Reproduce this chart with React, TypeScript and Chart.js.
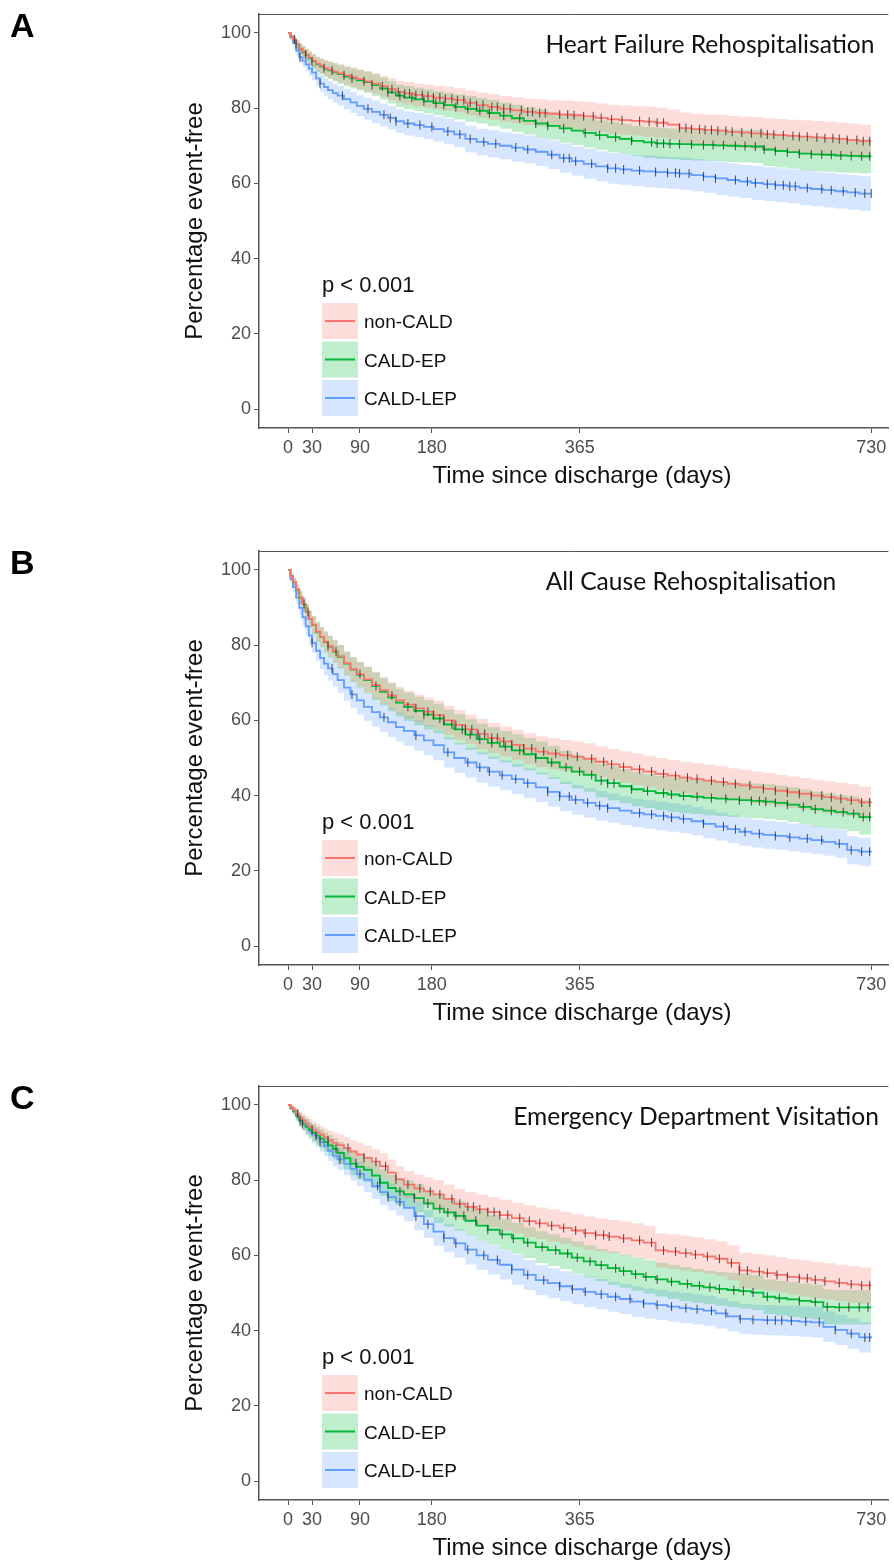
import React, { useEffect, useRef } from 'react';
import { Chart, registerables } from 'chart.js';

Chart.register(...registerables);

// ---------- shared axis / legend data ----------
const days = [
  0, 3, 6, 10, 14, 18, 22, 26,
  30, 35, 40, 45, 50, 56, 62, 70,
  78, 86, 95, 105, 115, 125, 135, 145,
  158, 170, 182, 195, 208, 222, 236, 250,
  265, 280, 295, 310, 325, 340, 355, 370,
  385, 400, 415, 430, 445, 460, 475, 490,
  505, 520, 535, 550, 565, 580, 595, 610,
  625, 640, 655, 670, 685, 700, 715, 730,
];
const xTickValues = [0, 30, 90, 180, 365, 730];
const yTickValues = [0, 20, 40, 60, 80, 100];
const groupNames = ['non-CALD', 'CALD-EP', 'CALD-LEP'];
const pValueLabel = 'p < 0.001';
const xAxisTitle = 'Time since discharge (days)';
const yAxisTitle = 'Percentage event-free';

// ---------- Panel A: Heart Failure Rehospitalisation ----------
const hfNonCald = [
  100, 99, 98.2, 97, 95.8, 95, 94.2, 93.4,
  92.6, 91.8, 91.2, 90.6, 90.2, 89.7, 89.2, 88.7,
  88.2, 87.7, 87.1, 86.5, 85.8, 85, 84.3, 83.9,
  83.5, 83.2, 82.8, 82.5, 82.1, 81.4, 80.8, 80.3,
  79.8, 79.4, 79.0, 78.7, 78.5, 78.3, 78.1, 77.8,
  77.4, 77.0, 76.8, 76.6, 76.4, 76.1, 75.6, 74.7,
  74.4, 74.2, 74.0, 73.7, 73.5, 73.3, 73.0, 72.8,
  72.6, 72.4, 72.2, 72.0, 71.8, 71.5, 71.2, 71.2,
];
const hfCaldEp = [
  100, 99, 98.2, 97, 95.7, 94.8, 94, 93.2,
  92.4, 91.6, 91, 90.4, 90, 89.5, 89, 88.4,
  87.9, 87.4, 86.9, 86.1, 85.2, 84.2, 83.3, 82.8,
  82.3, 81.8, 81.3, 80.8, 80.3, 79.8, 79.3, 78.7,
  78.0, 77.3, 76.6, 75.9, 75.3, 74.6, 74.0, 73.4,
  72.8, 72.3, 71.8, 71.3, 70.9, 70.6, 70.5, 70.4,
  70.3, 70.2, 70.1, 70.0, 69.9, 69.8, 69.0, 68.6,
  68.3, 67.9, 67.7, 67.6, 67.4, 67.3, 67.2, 67.2,
];
const hfCaldLep = [
  100, 98.8, 97.4, 95.3, 93.5, 92.6, 91.6, 90.5,
  89.4, 87.9, 86.5, 85.6, 84.8, 84, 83.3, 82.4,
  81.5, 80.6, 79.8, 79.0, 78.2, 77.4, 76.5, 75.9,
  75.5, 75.0, 74.4, 73.8, 73.0, 71.8, 71.0, 70.5,
  70.0, 69.5, 69.0, 68.4, 67.6, 66.7, 65.9, 65.2,
  64.5, 64.0, 63.7, 63.4, 63.2, 63.0, 62.8, 62.6,
  62.2, 61.8, 61.3, 60.9, 60.5, 60.1, 59.8, 59.5,
  59.2, 58.8, 58.5, 58.2, 57.9, 57.6, 57.3, 57.3,
];
const hfNonCaldCI = [
  0, 0.5, 0.8, 1.1, 1.3, 1.5, 1.6, 1.7,
  1.8, 1.9, 2.0, 2.1, 2.2, 2.3, 2.4, 2.5,
  2.6, 2.6, 2.7, 2.8, 2.8, 2.9, 2.9, 3.0,
  3.0, 3.1, 3.1, 3.2, 3.2, 3.3, 3.3, 3.4,
  3.4, 3.5, 3.5, 3.6, 3.6, 3.7, 3.7, 3.8,
  3.8, 3.9, 3.9, 3.9, 4.0, 4.0, 4.0, 4.1,
  4.1, 4.1, 4.2, 4.2, 4.2, 4.3, 4.3, 4.3,
  4.3, 4.4, 4.4, 4.4, 4.4, 4.4, 4.4, 4.4,
];
const hfCaldEpCI = [
  0, 0.6, 0.9, 1.2, 1.4, 1.6, 1.7, 1.8,
  1.9, 2.0, 2.1, 2.2, 2.3, 2.4, 2.5, 2.6,
  2.7, 2.7, 2.8, 2.9, 2.9, 3.0, 3.0, 3.1,
  3.1, 3.2, 3.2, 3.3, 3.3, 3.4, 3.4, 3.5,
  3.5, 3.6, 3.6, 3.7, 3.7, 3.8, 3.8, 3.9,
  3.9, 4.0, 4.0, 4.0, 4.1, 4.1, 4.1, 4.2,
  4.2, 4.2, 4.3, 4.3, 4.3, 4.4, 4.4, 4.4,
  4.4, 4.5, 4.5, 4.5, 4.5, 4.5, 4.5, 4.5,
];
const hfCaldLepCI = [
  0, 0.7, 1.0, 1.3, 1.5, 1.7, 1.8, 1.9,
  2.0, 2.1, 2.2, 2.3, 2.4, 2.5, 2.6, 2.7,
  2.8, 2.8, 2.9, 3.0, 3.0, 3.1, 3.1, 3.2,
  3.2, 3.3, 3.3, 3.4, 3.4, 3.5, 3.5, 3.6,
  3.6, 3.7, 3.7, 3.8, 3.8, 3.9, 3.9, 4.0,
  4.0, 4.1, 4.1, 4.1, 4.2, 4.2, 4.2, 4.3,
  4.3, 4.3, 4.4, 4.4, 4.4, 4.5, 4.5, 4.5,
  4.5, 4.6, 4.6, 4.6, 4.6, 4.6, 4.6, 4.6,
];
const hfNonCaldCensor = [8, 22, 45, 70, 95, 118, 130, 138, 146, 152, 160, 168, 175, 182, 190, 197, 205, 212, 220, 228, 236, 244, 255, 262, 270, 278, 292, 300, 306, 315, 322, 340, 350, 358, 370, 382, 392, 405, 418, 440, 452, 462, 470, 490, 498, 505, 515, 522, 530, 538, 548, 556, 568, 580, 592, 600, 608, 620, 632, 640, 650, 662, 672, 682, 690, 700, 712, 720, 728];
const hfCaldEpCensor = [10, 30, 55, 80, 105, 125, 140, 155, 170, 185, 195, 210, 225, 240, 252, 270, 290, 310, 325, 345, 372, 390, 410, 430, 455, 462, 470, 478, 490, 505, 520, 532, 545, 560, 572, 585, 596, 610, 625, 640, 655, 668, 680, 692, 705, 718, 728];
const hfCaldLepCensor = [15, 40, 68, 100, 120, 128, 135, 150, 165, 180, 200, 215, 228, 245, 260, 285, 300, 330, 345, 352, 360, 380, 400, 410, 420, 440, 460, 475, 485, 490, 502, 520, 535, 560, 575, 585, 600, 610, 620, 628, 635, 650, 668, 680, 695, 710, 722, 730];

// ---------- Panel B: All Cause Rehospitalisation ----------
const acNonCald = [
  100, 98.3, 96.8, 94.8, 92.7, 90.9, 88.9, 87.0,
  85.4, 83.6, 82.2, 80.9, 79.7, 78.4, 77.0, 75.2,
  73.6, 72.3, 70.9, 69.4, 68.0, 66.6, 65.3, 64.2,
  63.2, 62.3, 61.4, 60.0, 58.8, 57.6, 56.4, 55.3,
  54.4, 53.5, 52.5, 51.7, 51.2, 50.7, 50.3, 49.8,
  49.0, 48.3, 47.6, 47.0, 46.4, 45.8, 45.3, 44.8,
  44.4, 44.0, 43.6, 43.1, 42.7, 42.2, 41.8, 41.3,
  40.9, 40.5, 40.0, 39.6, 39.2, 38.8, 38.2, 38.1,
];
const acCaldEp = [
  100, 98.3, 96.8, 94.7, 92.6, 90.8, 88.8, 86.9,
  85.3, 83.5, 82.1, 80.8, 79.6, 78.3, 76.9, 75.1,
  73.5, 72.1, 70.7, 69.1, 67.6, 66.1, 64.7, 63.6,
  62.5, 61.5, 60.5, 58.9, 57.6, 56.2, 55.0, 54.0,
  53.0, 52.0, 51.0, 50.0, 48.8, 47.5, 46.4, 45.5,
  44.0, 43.3, 42.5, 41.7, 41.2, 40.7, 40.3, 39.9,
  39.7, 39.4, 39.2, 39.0, 38.8, 38.6, 38.4, 38.1,
  37.6, 37.0, 36.4, 36.0, 35.6, 35.2, 34.3, 34.3,
];
const acCaldLep = [
  100, 97.5, 95.4, 92.6, 89.9, 87.4, 85.0, 82.5,
  80.6, 78.5, 76.6, 75.1, 73.8, 72.3, 70.7, 68.7,
  66.9, 65.3, 63.6, 62.2, 60.8, 59.5, 58.2, 57.2,
  56.0, 54.7, 53.4, 51.5, 50.0, 48.8, 47.5, 46.4,
  45.4, 44.4, 43.3, 42.2, 41.0, 39.8, 38.9, 38.1,
  37.3, 36.7, 36.0, 35.4, 35.0, 34.6, 34.2, 33.8,
  33.2, 32.5, 31.8, 31.1, 30.4, 29.9, 29.6, 29.3,
  28.9, 28.6, 28.2, 27.7, 27.2, 25.5, 25.1, 25.0,
];
const acNonCaldCI = [
  0, 0.7, 1.0, 1.3, 1.6, 1.8, 2.0, 2.2,
  2.3, 2.5, 2.6, 2.7, 2.8, 2.9, 3.0, 3.1,
  3.2, 3.3, 3.4, 3.5, 3.5, 3.6, 3.6, 3.7,
  3.7, 3.8, 3.8, 3.9, 3.9, 3.9, 4.0, 4.0,
  4.0, 4.0, 4.1, 4.1, 4.1, 4.1, 4.1, 4.1,
  4.1, 4.1, 4.2, 4.2, 4.2, 4.2, 4.2, 4.2,
  4.2, 4.2, 4.2, 4.2, 4.2, 4.2, 4.2, 4.2,
  4.2, 4.2, 4.2, 4.2, 4.2, 4.2, 4.2, 4.2,
];
const acCaldEpCI = [
  0, 0.7, 1.0, 1.4, 1.7, 1.9, 2.1, 2.3,
  2.4, 2.6, 2.7, 2.8, 2.9, 3.0, 3.1, 3.2,
  3.3, 3.4, 3.5, 3.6, 3.6, 3.7, 3.7, 3.8,
  3.8, 3.9, 3.9, 4.0, 4.0, 4.1, 4.1, 4.2,
  4.2, 4.3, 4.3, 4.4, 4.4, 4.4, 4.5, 4.5,
  4.5, 4.5, 4.5, 4.5, 4.5, 4.5, 4.6, 4.6,
  4.6, 4.6, 4.6, 4.6, 4.6, 4.6, 4.6, 4.6,
  4.6, 4.6, 4.6, 4.6, 4.6, 4.6, 4.6, 4.6,
];
const acCaldLepCI = [
  0, 0.8, 1.2, 1.6, 1.9, 2.1, 2.3, 2.5,
  2.7, 2.8, 3.0, 3.1, 3.2, 3.3, 3.4, 3.5,
  3.6, 3.7, 3.7, 3.8, 3.8, 3.9, 3.9, 4.0,
  4.0, 4.0, 4.0, 4.0, 4.0, 4.0, 4.0, 4.0,
  4.0, 4.0, 4.0, 3.9, 3.9, 3.9, 3.9, 3.9,
  3.9, 3.9, 3.8, 3.8, 3.8, 3.8, 3.8, 3.8,
  3.8, 3.8, 3.7, 3.7, 3.7, 3.7, 3.7, 3.7,
  3.7, 3.7, 3.7, 3.7, 3.7, 3.7, 3.7, 3.7,
];
const acNonCaldCensor = [20, 50, 90, 130, 160, 175, 182, 195, 210, 222, 230, 238, 246, 255, 262, 270, 280, 295, 305, 320, 335, 350, 362, 380, 395, 405, 420, 440, 455, 470, 485, 500, 512, 530, 545, 560, 578, 595, 610, 625, 640, 655, 668, 680, 692, 705, 718, 728];
const acCaldEpCensor = [25, 60, 110, 150, 170, 190, 205, 218, 228, 240, 255, 272, 290, 310, 330, 348, 365, 380, 392, 400, 408, 430, 450, 470, 480, 495, 512, 530, 548, 565, 580, 590, 598, 610, 625, 645, 660, 680, 695, 708, 720, 728];
const acCaldLepCensor = [30, 55, 80, 120, 160, 200, 225, 240, 252, 268, 285, 300, 325, 340, 352, 360, 375, 390, 400, 440, 455, 470, 480, 495, 520, 545, 560, 572, 590, 610, 628, 650, 668, 690, 705, 718, 728];

// ---------- Panel C: Emergency Department Visitation ----------
const edNonCald = [
  100, 99.3, 98.6, 97.6, 96.6, 95.8, 95.0, 94.2,
  93.4, 92.6, 92.0, 91.3, 90.6, 89.9, 89.3, 88.5,
  87.6, 86.8, 85.9, 84.9, 83.7, 82.0, 80.2, 78.8,
  77.8, 77.0, 76.2, 75.0, 73.7, 72.9, 72.2, 71.5,
  70.7, 69.9, 69.1, 68.5, 67.9, 67.3, 66.6, 65.9,
  65.4, 65.0, 64.5, 64.0, 63.4, 61.3, 61.0, 60.6,
  60.2, 59.7, 59.1, 58.0, 56.0, 55.7, 55.3, 54.8,
  54.3, 53.9, 53.5, 53.1, 52.7, 52.3, 52.0, 52.0,
];
const edCaldEp = [
  100, 99.2, 98.4, 97.2, 95.8, 95.0, 94.2, 93.4,
  92.6, 91.8, 91.0, 90.1, 89.2, 88.3, 87.2, 85.8,
  84.4, 83.5, 82.7, 81.2, 79.3, 77.9, 77.0, 76.2,
  75.2, 73.8, 72.4, 71.4, 70.5, 69.2, 67.9, 66.8,
  65.6, 64.5, 63.4, 62.2, 61.4, 60.5, 59.4, 58.4,
  57.4, 56.6, 55.8, 55.0, 54.3, 53.6, 53.0, 52.4,
  51.9, 51.5, 51.1, 50.8, 50.5, 50.1, 49.0, 48.6,
  48.3, 47.9, 47.6, 46.3, 46.2, 46.2, 46.2, 46.2,
];
const edCaldLep = [
  100, 99.1, 98.2, 97.0, 95.8, 94.9, 94.0, 93.0,
  92.1, 91.2, 90.1, 89.0, 87.8, 86.5, 85.5, 84.3,
  83.0, 81.6, 80.1, 78.4, 76.8, 75.5, 74.2, 72.6,
  70.4, 68.3, 66.3, 64.6, 63.2, 61.5, 60.0, 58.8,
  57.5, 56.2, 54.8, 53.4, 52.6, 51.8, 51.0, 50.3,
  49.7, 49.0, 48.4, 47.7, 47.2, 46.8, 46.4, 46.0,
  45.7, 45.3, 44.6, 43.8, 43.1, 42.9, 42.8, 42.7,
  42.6, 42.4, 42.2, 41.0, 40.2, 39.2, 38.2, 38.0,
];
const edNonCaldCI = [
  0, 0.6, 0.9, 1.2, 1.5, 1.7, 1.9, 2.0,
  2.2, 2.3, 2.4, 2.5, 2.6, 2.7, 2.8, 2.9,
  3.0, 3.1, 3.2, 3.3, 3.4, 3.5, 3.5, 3.6,
  3.7, 3.7, 3.8, 3.8, 3.9, 3.9, 4.0, 4.0,
  4.1, 4.1, 4.2, 4.2, 4.3, 4.3, 4.3, 4.4,
  4.4, 4.4, 4.5, 4.5, 4.5, 4.5, 4.6, 4.6,
  4.6, 4.6, 4.6, 4.7, 4.7, 4.7, 4.7, 4.7,
  4.7, 4.8, 4.8, 4.8, 4.8, 4.8, 4.8, 4.8,
];
const edCaldEpCI = [
  0, 0.7, 1.0, 1.3, 1.6, 1.8, 2.0, 2.1,
  2.3, 2.4, 2.5, 2.6, 2.7, 2.8, 2.9, 3.0,
  3.1, 3.2, 3.3, 3.4, 3.5, 3.5, 3.6, 3.6,
  3.7, 3.7, 3.8, 3.8, 3.9, 3.9, 4.0, 4.0,
  4.1, 4.1, 4.1, 4.2, 4.2, 4.2, 4.3, 4.3,
  4.3, 4.4, 4.4, 4.4, 4.4, 4.5, 4.5, 4.5,
  4.5, 4.5, 4.5, 4.6, 4.6, 4.6, 4.6, 4.6,
  4.6, 4.6, 4.6, 4.6, 4.6, 4.6, 4.6, 4.6,
];
const edCaldLepCI = [
  0, 0.7, 1.0, 1.3, 1.6, 1.8, 2.0, 2.1,
  2.3, 2.4, 2.5, 2.6, 2.7, 2.8, 2.9, 3.0,
  3.1, 3.2, 3.3, 3.4, 3.5, 3.5, 3.6, 3.6,
  3.7, 3.7, 3.8, 3.8, 3.8, 3.9, 3.9, 3.9,
  3.9, 4.0, 4.0, 4.0, 4.0, 4.0, 4.0, 4.0,
  4.0, 4.0, 4.0, 4.0, 4.0, 4.0, 4.0, 4.0,
  4.0, 4.0, 4.0, 4.0, 4.0, 4.0, 4.0, 4.0,
  4.0, 4.0, 4.0, 4.0, 4.0, 4.0, 4.0, 4.0,
];
const edNonCaldCensor = [12, 30, 50, 75, 95, 110, 122, 135, 150, 165, 178, 190, 205, 215, 225, 232, 240, 250, 258, 265, 275, 290, 302, 315, 330, 345, 360, 372, 385, 395, 402, 420, 440, 455, 470, 485, 498, 510, 525, 540, 555, 565, 575, 590, 600, 612, 625, 640, 650, 660, 672, 690, 705, 718, 728];
const edCaldEpCensor = [15, 35, 60, 85, 115, 140, 158, 175, 190, 200, 210, 220, 235, 250, 268, 282, 300, 318, 335, 350, 362, 378, 392, 410, 420, 435, 448, 462, 480, 500, 515, 528, 540, 558, 570, 582, 600, 615, 640, 660, 675, 690, 702, 715, 726];
const edCaldLepCensor = [18, 40, 65, 90, 112, 125, 140, 160, 175, 195, 210, 225, 245, 262, 280, 300, 320, 340, 356, 372, 392, 410, 428, 445, 462, 480, 498, 512, 530, 548, 566, 582, 600, 610, 618, 630, 648, 665, 685, 705, 722, 728];

// ---------- styling ----------
const lineColors = ['#F8766D', '#00BA38', '#619CFF'];
const bandColors = ['rgba(248,118,109,0.25)', 'rgba(0,186,56,0.25)', 'rgba(97,156,255,0.25)'];
const FONT = '"Liberation Sans", Arial, Helvetica, sans-serif';
const TITLE_FONT = 'Lato, "Open Sans", sans-serif';
const AXIS_GREY = '#555555';
const CANVAS_W = 894;
const CANVAS_H = 510;

const PANELS = [
  { letter: 'A', title: 'Heart Failure Rehospitalisation', titleCx: 710, canvasTop: 0,
    surv: [hfNonCald, hfCaldEp, hfCaldLep], ci: [hfNonCaldCI, hfCaldEpCI, hfCaldLepCI], censor: [hfNonCaldCensor, hfCaldEpCensor, hfCaldLepCensor] },
  { letter: 'B', title: 'All Cause Rehospitalisation', titleCx: 691, canvasTop: 537,
    surv: [acNonCald, acCaldEp, acCaldLep], ci: [acNonCaldCI, acCaldEpCI, acCaldLepCI], censor: [acNonCaldCensor, acCaldEpCensor, acCaldLepCensor] },
  { letter: 'C', title: 'Emergency Department Visitation', titleCx: 696, canvasTop: 1072,
    surv: [edNonCald, edCaldEp, edCaldLep], ci: [edNonCaldCI, edCaldEpCI, edCaldLepCI], censor: [edNonCaldCensor, edCaldEpCensor, edCaldLepCensor] },
];

// value of the Kaplan-Meier step curve at time t (last step at or before t)
function stepValue(series: number[], t: number) {
  let v = series[0];
  for (let i = 0; i < days.length; i++) {
    if (days[i] <= t) v = series[i];
  }
  return v;
}

function makeDecor(panel: any) {
  return {
    id: 'decor' + panel.letter,
    afterDraw(chart: any) {
      const ctx = chart.ctx;
      const a = chart.chartArea;
      ctx.save();
      // top frame line
      ctx.strokeStyle = AXIS_GREY;
      ctx.lineWidth = 1;
      ctx.beginPath();
      ctx.moveTo(a.left, a.top + 0.5);
      ctx.lineTo(a.right, a.top + 0.5);
      ctx.stroke();

      // panel letter
      ctx.fillStyle = '#000';
      ctx.font = 'bold 34px ' + FONT;
      ctx.textAlign = 'left';
      ctx.textBaseline = 'alphabetic';
      ctx.fillText(panel.letter, 10, 37);

      // panel title
      ctx.font = '24.6px ' + TITLE_FONT;
      ctx.textAlign = 'center';
      ctx.fillStyle = '#111';
      ctx.fillText(panel.title, panel.titleCx, a.top + 39);

      // axis titles
      ctx.fillStyle = '#111';
      ctx.font = '24px ' + FONT;
      ctx.textAlign = 'center';
      ctx.fillText(xAxisTitle, 582, a.top + 469);
      ctx.save();
      ctx.translate(202, (a.top + a.bottom) / 2);
      ctx.rotate(-Math.PI / 2);
      ctx.fillText(yAxisTitle, 0, 0);
      ctx.restore();

      // legend
      const lx = 322;
      ctx.textAlign = 'left';
      ctx.font = '22px ' + FONT;
      ctx.fillStyle = '#111';
      ctx.fillText(pValueLabel, lx, a.top + 278);
      ctx.font = '19px ' + FONT;
      for (let g = 0; g < 3; g++) {
        const ky = a.top + 289 + g * 38.5;
        ctx.fillStyle = '#fff';
        ctx.fillRect(lx, ky, 36, 36);
        ctx.fillStyle = bandColors[g];
        ctx.fillRect(lx, ky, 36, 36);
        ctx.strokeStyle = lineColors[g];
        ctx.lineWidth = 2;
        ctx.beginPath();
        ctx.moveTo(lx + 3, ky + 18);
        ctx.lineTo(lx + 33, ky + 18);
        ctx.stroke();
        ctx.fillStyle = '#111';
        ctx.fillText(groupNames[g], lx + 42, ky + 25);
      }
      ctx.restore();
    },
  };
}

function makeChart(canvas: HTMLCanvasElement, panel: any) {
  const datasets: any[] = [];
  panel.surv.forEach((s: number[], g: number) => {
    datasets.push({
      label: groupNames[g] + ' lower', type: 'line', order: 3,
      data: days.map((d, i) => ({ x: d, y: s[i] - panel.ci[g][i] })),
      borderColor: 'rgba(0,0,0,0)', borderWidth: 1, pointRadius: 0, stepped: true, fill: false,
    });
    datasets.push({
      label: groupNames[g] + ' upper', type: 'line', order: 3,
      data: days.map((d, i) => ({ x: d, y: s[i] + panel.ci[g][i] })),
      borderColor: 'rgba(0,0,0,0)', borderWidth: 1, pointRadius: 0, stepped: true,
      fill: '-1', backgroundColor: bandColors[g],
    });
  });
  panel.surv.forEach((s: number[], g: number) => {
    datasets.push({
      label: groupNames[g], type: 'line', order: 2,
      data: days.map((d, i) => ({ x: d, y: s[i] })),
      borderColor: lineColors[g], borderWidth: 1.8, pointRadius: 0, stepped: true, fill: false,
    });
  });
  panel.censor.forEach((c: number[], g: number) => {
    datasets.push({
      label: groupNames[g] + ' censored', type: 'line', order: 1, showLine: false,
      data: c.map((t) => ({ x: t, y: stepValue(panel.surv[g], t) })),
      pointStyle: 'line', rotation: 90, pointRadius: 4.5, pointBorderWidth: 1.1,
      pointBorderColor: 'rgba(40,40,40,0.75)', pointBackgroundColor: 'rgba(0,0,0,0)',
    });
  });

  return new Chart(canvas, {
    type: 'line',
    data: { datasets },
    options: {
      responsive: false,
      animation: false,
      devicePixelRatio: 1,
      events: [],
      layout: { padding: { top: 14, left: 0, right: 0, bottom: 0 } },
      plugins: { legend: { display: false }, tooltip: { enabled: false }, title: { display: false } },
      scales: {
        x: {
          type: 'linear', min: -36.4, max: 751.5,
          afterBuildTicks: (s: any) => { s.ticks = xTickValues.map((v) => ({ value: v })); },
          afterFit: (s: any) => { s.height = CANVAS_H - 14 - 414; s.paddingLeft = 0; s.paddingRight = 0; },
          grid: { display: true, drawOnChartArea: false, drawTicks: true, tickLength: 5, color: AXIS_GREY, lineWidth: 1 },
          border: { display: true, color: AXIS_GREY, width: 1.5 },
          ticks: { font: { family: FONT, size: 18 }, color: '#4D4D4D', padding: 4, maxRotation: 0, autoSkip: false },
        },
        y: {
          type: 'linear', min: -5, max: 105,
          afterBuildTicks: (s: any) => { s.ticks = yTickValues.map((v) => ({ value: v })); },
          afterFit: (s: any) => { s.width = 259; s.paddingTop = 0; s.paddingBottom = 0; },
          grid: { display: true, drawOnChartArea: false, drawTicks: true, tickLength: 5, color: AXIS_GREY, lineWidth: 1 },
          border: { display: true, color: AXIS_GREY, width: 1.5 },
          ticks: { font: { family: FONT, size: 18 }, color: '#4D4D4D', padding: 3, autoSkip: false },
        },
      },
    },
    plugins: [makeDecor(panel)],
  } as any);
}

export default function App() {
  const r0 = useRef<HTMLCanvasElement>(null);
  const r1 = useRef<HTMLCanvasElement>(null);
  const r2 = useRef<HTMLCanvasElement>(null);
  const refs = [r0, r1, r2];

  useEffect(() => {
    const charts = PANELS.map((p, i) => makeChart(refs[i].current as HTMLCanvasElement, p));
    return () => charts.forEach((c) => c.destroy());
  }, []);

  return (
    <div style={{ position: 'absolute', left: 0, top: 0, width: CANVAS_W, height: 1562, background: '#fff', overflow: 'hidden' }}>
      {PANELS.map((p, i) => (
        <canvas
          key={p.letter}
          ref={refs[i]}
          width={CANVAS_W}
          height={CANVAS_H}
          style={{ position: 'absolute', left: 0, top: p.canvasTop, width: CANVAS_W, height: CANVAS_H }}
        />
      ))}
    </div>
  );
}
